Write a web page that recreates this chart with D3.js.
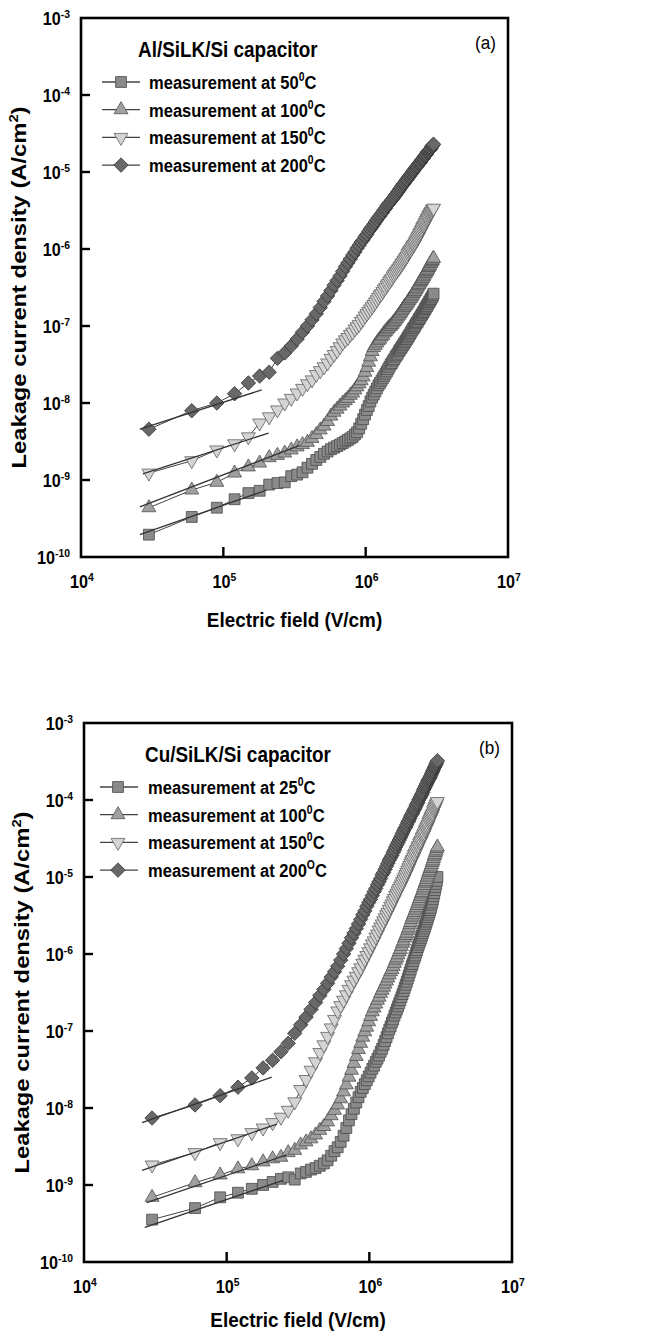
<!DOCTYPE html>
<html>
<head>
<meta charset="utf-8">
<script src="https://cdn.jsdelivr.net/npm/d3@7"></script>
<style>
  body { margin: 0; background: #fff; }
  text { font-family: "Liberation Sans", Arial, Helvetica, sans-serif; }
</style>
</head>
<body>
<svg id="fig" width="656" height="1335"></svg>
<script>
// measurement grid, kV/cm
const fieldKV = [30,60,90,120,150,180,210,240,270,300,
  330,360,390,420,450,480,510,540,570,600,
  630,660,690,720,750,780,810,840,870,900,
  930,960,990,1020,1050,1080,1110,1140,1170,1200,
  1230,1260,1290,1320,1350,1380,1410,1440,1470,1500,
  1530,1560,1590,1620,1650,1680,1710,1740,1770,1800,
  1830,1860,1890,1920,1950,1980,2010,2040,2070,2100,
  2130,2160,2190,2220,2250,2280,2310,2340,2370,2400,
  2430,2460,2490,2520,2550,2580,2610,2640,2670,2700,
  2730,2760,2790,2820,2850,2880,2910,2940,2970,3000];

// log10 of leakage current density (A/cm2)
const alLog50 = [-9.71,-9.48,-9.36,-9.25,-9.17,-9.14,-9.06,-9.04,-9.03,-8.95,
  -8.93,-8.90,-8.84,-8.79,-8.74,-8.70,-8.66,-8.63,-8.60,-8.58,
  -8.56,-8.54,-8.52,-8.50,-8.48,-8.46,-8.44,-8.41,-8.38,-8.33,
  -8.27,-8.21,-8.15,-8.09,-8.04,-7.98,-7.93,-7.89,-7.85,-7.81,
  -7.77,-7.74,-7.71,-7.68,-7.65,-7.62,-7.59,-7.56,-7.53,-7.50,
  -7.48,-7.45,-7.43,-7.40,-7.38,-7.36,-7.33,-7.31,-7.29,-7.27,
  -7.25,-7.23,-7.21,-7.19,-7.17,-7.15,-7.13,-7.11,-7.09,-7.07,
  -7.05,-7.03,-7.02,-7.00,-6.98,-6.96,-6.95,-6.93,-6.91,-6.90,
  -6.88,-6.86,-6.85,-6.83,-6.82,-6.80,-6.78,-6.77,-6.75,-6.74,
  -6.72,-6.71,-6.69,-6.68,-6.66,-6.65,-6.63,-6.62,-6.60,-6.58];
const alLog100 = [-9.36,-9.13,-9.03,-8.91,-8.83,-8.78,-8.71,-8.68,-8.65,-8.61,
  -8.57,-8.54,-8.51,-8.46,-8.41,-8.35,-8.30,-8.24,-8.17,-8.12,
  -8.08,-8.04,-8.00,-7.97,-7.94,-7.90,-7.87,-7.83,-7.79,-7.75,
  -7.71,-7.66,-7.60,-7.54,-7.47,-7.40,-7.33,-7.28,-7.25,-7.22,
  -7.19,-7.17,-7.14,-7.12,-7.09,-7.07,-7.05,-7.03,-7.01,-7.00,
  -6.98,-6.96,-6.94,-6.92,-6.90,-6.88,-6.86,-6.84,-6.82,-6.80,
  -6.78,-6.76,-6.74,-6.73,-6.71,-6.69,-6.67,-6.65,-6.64,-6.62,
  -6.60,-6.58,-6.56,-6.55,-6.53,-6.51,-6.49,-6.47,-6.46,-6.44,
  -6.42,-6.41,-6.39,-6.38,-6.36,-6.34,-6.32,-6.31,-6.29,-6.28,
  -6.26,-6.24,-6.23,-6.21,-6.19,-6.18,-6.16,-6.15,-6.13,-6.12];
const alLog150 = [-8.91,-8.75,-8.61,-8.53,-8.44,-8.26,-8.18,-8.09,-8.00,-7.94,
  -7.87,-7.81,-7.75,-7.70,-7.63,-7.58,-7.53,-7.48,-7.42,-7.37,
  -7.32,-7.27,-7.22,-7.18,-7.15,-7.11,-7.08,-7.04,-7.01,-6.98,
  -6.94,-6.91,-6.87,-6.84,-6.81,-6.78,-6.75,-6.72,-6.69,-6.66,
  -6.63,-6.60,-6.58,-6.55,-6.52,-6.50,-6.47,-6.45,-6.42,-6.40,
  -6.38,-6.35,-6.33,-6.31,-6.29,-6.27,-6.25,-6.23,-6.21,-6.19,
  -6.17,-6.15,-6.13,-6.11,-6.09,-6.06,-6.04,-6.02,-6.01,-5.99,
  -5.97,-5.95,-5.94,-5.92,-5.90,-5.88,-5.86,-5.84,-5.82,-5.80,
  -5.78,-5.76,-5.74,-5.72,-5.70,-5.69,-5.67,-5.65,-5.63,-5.61,
  -5.60,-5.58,-5.56,-5.55,-5.53,-5.52,-5.51,-5.49,-5.48,-5.47];
const alLog200 = [-8.34,-8.10,-8.00,-7.88,-7.74,-7.65,-7.60,-7.42,-7.35,-7.26,
  -7.17,-7.08,-7.00,-6.92,-6.84,-6.76,-6.68,-6.61,-6.54,-6.47,
  -6.41,-6.35,-6.29,-6.23,-6.18,-6.13,-6.08,-6.04,-5.99,-5.95,
  -5.91,-5.88,-5.84,-5.81,-5.77,-5.74,-5.71,-5.68,-5.65,-5.62,
  -5.59,-5.57,-5.54,-5.52,-5.49,-5.47,-5.44,-5.42,-5.40,-5.38,
  -5.36,-5.34,-5.32,-5.30,-5.28,-5.26,-5.24,-5.22,-5.20,-5.18,
  -5.16,-5.15,-5.13,-5.11,-5.10,-5.08,-5.06,-5.05,-5.03,-5.02,
  -5.00,-4.99,-4.97,-4.96,-4.94,-4.93,-4.92,-4.90,-4.89,-4.88,
  -4.87,-4.85,-4.84,-4.83,-4.82,-4.80,-4.79,-4.78,-4.77,-4.75,
  -4.74,-4.73,-4.72,-4.71,-4.70,-4.69,-4.67,-4.66,-4.65,-4.64];

// panel (b)
const cuLog25 = [-9.45,-9.30,-9.16,-9.10,-9.05,-9.00,-8.96,-8.92,-8.90,-8.93,
  -8.85,-8.83,-8.80,-8.78,-8.75,-8.72,-8.68,-8.62,-8.56,-8.51,
  -8.44,-8.36,-8.26,-8.16,-8.08,-8.01,-7.93,-7.86,-7.79,-7.74,
  -7.69,-7.64,-7.59,-7.54,-7.49,-7.45,-7.40,-7.36,-7.32,-7.27,
  -7.23,-7.18,-7.13,-7.08,-7.03,-6.98,-6.94,-6.89,-6.85,-6.80,
  -6.76,-6.72,-6.68,-6.64,-6.60,-6.56,-6.52,-6.48,-6.44,-6.40,
  -6.36,-6.32,-6.28,-6.24,-6.20,-6.16,-6.13,-6.09,-6.05,-6.02,
  -5.98,-5.95,-5.91,-5.88,-5.85,-5.82,-5.79,-5.76,-5.73,-5.70,
  -5.67,-5.64,-5.61,-5.58,-5.55,-5.52,-5.49,-5.46,-5.43,-5.40,
  -5.36,-5.33,-5.29,-5.25,-5.21,-5.17,-5.13,-5.09,-5.05,-5.00];
const cuLog100 = [-9.16,-8.97,-8.87,-8.79,-8.75,-8.70,-8.66,-8.64,-8.58,-8.55,
  -8.48,-8.44,-8.40,-8.35,-8.29,-8.24,-8.18,-8.10,-8.03,-7.96,
  -7.88,-7.79,-7.70,-7.60,-7.51,-7.42,-7.33,-7.24,-7.16,-7.08,
  -7.01,-6.95,-6.88,-6.81,-6.75,-6.70,-6.65,-6.60,-6.56,-6.51,
  -6.47,-6.43,-6.39,-6.35,-6.31,-6.27,-6.23,-6.20,-6.16,-6.12,
  -6.08,-6.05,-6.01,-5.97,-5.94,-5.90,-5.86,-5.83,-5.79,-5.76,
  -5.73,-5.69,-5.66,-5.62,-5.59,-5.55,-5.52,-5.49,-5.46,-5.43,
  -5.40,-5.37,-5.34,-5.31,-5.28,-5.25,-5.22,-5.20,-5.17,-5.14,
  -5.11,-5.08,-5.06,-5.03,-5.00,-4.97,-4.94,-4.92,-4.89,-4.87,
  -4.84,-4.81,-4.79,-4.76,-4.73,-4.71,-4.68,-4.66,-4.63,-4.61];
const cuLog150 = [-8.74,-8.58,-8.45,-8.40,-8.32,-8.26,-8.19,-8.12,-8.03,-7.92,
  -7.76,-7.63,-7.51,-7.40,-7.28,-7.18,-7.07,-6.96,-6.85,-6.74,
  -6.67,-6.60,-6.53,-6.46,-6.40,-6.34,-6.29,-6.23,-6.18,-6.12,
  -6.07,-6.02,-5.97,-5.92,-5.87,-5.83,-5.78,-5.74,-5.69,-5.65,
  -5.61,-5.57,-5.53,-5.49,-5.46,-5.42,-5.38,-5.35,-5.31,-5.28,
  -5.24,-5.21,-5.18,-5.15,-5.12,-5.09,-5.06,-5.03,-5.00,-4.97,
  -4.94,-4.91,-4.88,-4.85,-4.82,-4.79,-4.77,-4.74,-4.71,-4.69,
  -4.66,-4.64,-4.61,-4.59,-4.56,-4.54,-4.52,-4.49,-4.47,-4.45,
  -4.43,-4.40,-4.38,-4.36,-4.34,-4.32,-4.29,-4.27,-4.25,-4.23,
  -4.21,-4.19,-4.17,-4.14,-4.12,-4.10,-4.08,-4.06,-4.04,-4.02];
const cuLog200 = [-8.13,-7.96,-7.84,-7.73,-7.61,-7.48,-7.38,-7.27,-7.16,-7.03,
  -6.92,-6.82,-6.72,-6.63,-6.54,-6.46,-6.38,-6.30,-6.23,-6.16,
  -6.08,-6.00,-5.93,-5.86,-5.79,-5.73,-5.67,-5.61,-5.55,-5.49,
  -5.44,-5.38,-5.33,-5.29,-5.24,-5.19,-5.15,-5.10,-5.06,-5.02,
  -4.97,-4.94,-4.90,-4.86,-4.82,-4.78,-4.75,-4.72,-4.68,-4.65,
  -4.61,-4.58,-4.55,-4.52,-4.49,-4.46,-4.43,-4.40,-4.37,-4.35,
  -4.32,-4.29,-4.27,-4.24,-4.21,-4.19,-4.17,-4.14,-4.12,-4.10,
  -4.07,-4.05,-4.03,-4.00,-3.98,-3.96,-3.94,-3.92,-3.90,-3.87,
  -3.85,-3.83,-3.81,-3.79,-3.77,-3.75,-3.73,-3.72,-3.70,-3.68,
  -3.66,-3.64,-3.62,-3.60,-3.58,-3.57,-3.55,-3.53,-3.51,-3.49];

// low-field fit lines: [field V/cm, log10 J] end points
const alFits = [
  [[2.59e4, -9.71], [2.02e5, -9.13]],
  [[2.59e4, -9.35], [3.44e5, -8.55]],
  [[2.72e4, -8.92], [2.08e5, -8.39]],
  [[2.59e4, -8.34], [1.86e5, -7.83]]];
const cuFits = [
  [[2.67e4, -9.55], [2.48e5, -8.94]],
  [[2.75e4, -9.23], [2.63e5, -8.61]],
  [[2.55e4, -8.81], [2.25e5, -8.21]],
  [[2.55e4, -8.19], [2.07e5, -7.60]]];

const alTemps = ['50', '100', '150', '200'];
const alDeg = ['0', '0', '0', '0'];
const cuTemps = ['25', '100', '150', '200'];
const cuDeg = ['0', '0', '0', 'O'];

const xTicks = [1e4, 1e5, 1e6, 1e7];
const yTicks = [1e-10, 1e-9, 1e-8, 1e-7, 1e-6, 1e-5, 1e-4, 1e-3];

// marker look per series (same order in both panels)
const markers = [
  {shape: d3.symbolSquare, size: 118, rot: 0, fill: '#8a8a8a', stroke: '#4a4a4a'},
  {shape: d3.symbolTriangle, size: 84, rot: 0, fill: '#a0a0a0', stroke: '#505050'},
  {shape: d3.symbolTriangle, size: 84, rot: 180, fill: '#d4d4d4', stroke: '#606060'},
  {shape: d3.symbolSquare, size: 104, rot: 45, fill: '#686868', stroke: '#383838'}];

const svg = d3.select('#fig');

// the printed font is a narrow bold sans, so squeeze text horizontally
function narrowText(g, x, y, size, sx, anchor, weight) {
  return g.append('g')
    .attr('transform', `translate(${x},${y}) scale(${sx},1)`)
    .append('text')
    .attr('text-anchor', anchor).attr('font-size', size)
    .attr('font-weight', weight);
}

function supText(sel, base, sup, supSize, lift) {
  sel.append('tspan').text(base);
  sel.append('tspan').attr('dy', -lift).attr('font-size', supSize).text(sup);
}

function drawPanel(p) {
  const g = svg.append('g');
  const x = d3.scaleLog().domain([1e4, 1e7]).range([p.left, p.right]);
  const y = d3.scaleLog().domain([1e-10, 1e-3]).range([p.bottom, p.top]);

  // series: thin connecting line + markers
  p.series.forEach(function (s, i) {
    let pts = s.map((v, k) => [fieldKV[k] * 1000, Math.pow(10, v)]);
    let m = markers[i];
    g.append('path')
      .attr('d', d3.line().x(d => x(d[0])).y(d => y(d[1]))(pts))
      .attr('fill', 'none').attr('stroke', '#444').attr('stroke-width', 1);
    g.selectAll('.mk' + i)
      .data(pts)
      .enter()
      .append('path')
      .attr('transform', d => `translate(${x(d[0])},${y(d[1])}) rotate(${m.rot})`)
      .attr('d', d3.symbol().type(m.shape).size(m.size)())
      .attr('fill', m.fill).attr('stroke', m.stroke).attr('stroke-width', 0.8);
  });

  // fit lines over the markers
  p.fits.forEach(function (f) {
    g.append('path')
      .attr('d', d3.line().x(d => x(d[0])).y(d => y(Math.pow(10, d[1])))(f))
      .attr('fill', 'none').attr('stroke', '#333').attr('stroke-width', 1.3);
  });

  // frame
  g.append('rect')
    .attr('x', p.left).attr('y', p.top)
    .attr('width', p.right - p.left).attr('height', p.bottom - p.top)
    .attr('fill', 'none').attr('stroke', '#000').attr('stroke-width', 2.6);

  // inward ticks
  yTicks.slice(1, -1).forEach(function (t) {
    g.append('line').attr('x1', p.left).attr('x2', p.left + 9)
      .attr('y1', y(t)).attr('y2', y(t))
      .attr('stroke', '#000').attr('stroke-width', 2.4);
  });
  xTicks.slice(1, -1).forEach(function (t) {
    g.append('line').attr('x1', x(t)).attr('x2', x(t))
      .attr('y1', p.bottom).attr('y2', p.bottom - 10)
      .attr('stroke', '#000').attr('stroke-width', 2.4);
  });

  // tick labels
  yTicks.forEach(function (t) {
    let lab = narrowText(g, p.left - 11, y(t) + 7, 18, 0.9, 'end', 'bold');
    supText(lab, '10', String(Math.round(Math.log10(t))), 11.5, 7);
  });
  xTicks.forEach(function (t) {
    let lab = narrowText(g, x(t) + 1, p.bottom + 31, 18, 0.9, 'middle', 'bold');
    supText(lab, '10', String(Math.round(Math.log10(t))), 11.5, 7);
  });

  // axis titles
  narrowText(g, (p.left + p.right) / 2, p.bottom + p.xTitleGap, 21, 0.9, 'middle', 'bold')
    .text('Electric field (V/cm)');
  let yt = g.append('text')
    .attr('transform', `translate(${p.left - 55},${(p.top + p.bottom) / 2}) rotate(-90)`)
    .attr('text-anchor', 'middle').attr('font-size', 21).attr('font-weight', 'bold')
    .attr('textLength', 362).attr('lengthAdjust', 'spacingAndGlyphs');
  yt.append('tspan').text('Leakage current density (A/cm');
  yt.append('tspan').attr('dy', -8).attr('font-size', 13).text('2');
  yt.append('tspan').attr('dy', 8).text(')');

  // panel tag
  narrowText(g, p.right - 33, p.top + 31, 19, 0.9, 'start', 'normal').text(p.tag);

  // legend
  let L = p.legend;
  narrowText(g, p.left + L.title, p.top + 39, 22, 0.86, 'start', 'bold').text(p.title);
  p.temps.forEach(function (t, i) {
    let yy = p.top + 64 + i * 27.7;
    let m = markers[i];
    g.append('line')
      .attr('x1', p.left + L.line0).attr('x2', p.left + L.line1)
      .attr('y1', yy).attr('y2', yy)
      .attr('stroke', '#444').attr('stroke-width', 1.3);
    g.append('path')
      .attr('transform', `translate(${p.left + L.mark},${yy}) rotate(${m.rot})`)
      .attr('d', d3.symbol().type(m.shape).size(m.size)())
      .attr('fill', m.fill).attr('stroke', m.stroke).attr('stroke-width', 0.8);
    let lt = narrowText(g, p.left + L.text, yy + 7, 19, 0.87, 'start', 'bold');
    lt.append('tspan').text('measurement at ' + t);
    lt.append('tspan').attr('dy', -8).attr('font-size', 12).text(p.deg[i]);
    lt.append('tspan').attr('dy', 8).text('C');
  });
}

drawPanel({
  left: 81, right: 508, top: 18, bottom: 557, xTitleGap: 70,
  title: 'Al/SiLK/Si capacitor', tag: '(a)',
  temps: alTemps, deg: alDeg,
  series: [alLog50, alLog100, alLog150, alLog200],
  fits: alFits,
  legend: {title: 57, line0: 21, line1: 59, mark: 40, text: 68}
});
drawPanel({
  left: 84, right: 512, top: 723, bottom: 1262, xTitleGap: 65,
  title: 'Cu/SiLK/Si capacitor', tag: '(b)',
  temps: cuTemps, deg: cuDeg,
  series: [cuLog25, cuLog100, cuLog150, cuLog200],
  fits: cuFits,
  legend: {title: 61, line0: 16, line1: 54, mark: 34, text: 64}
});
</script>
</body>
</html>
